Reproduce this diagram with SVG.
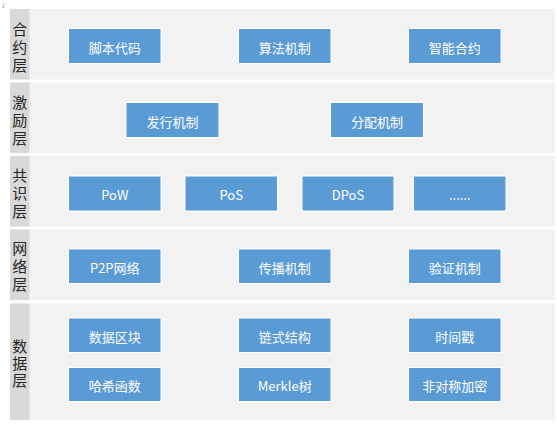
<svg xmlns="http://www.w3.org/2000/svg" width="557" height="428" viewBox="0 0 557 428">
<style>
.band{fill:#f2f2f2}
.lab{fill:#d9d9d9}
.lt{font-family:"Noto Sans CJK SC","Noto Sans",sans-serif;font-size:15px;fill:#262626;text-anchor:middle;writing-mode:vertical-rl;letter-spacing:3px}
.box{fill:#5b9bd5;stroke:#ffffff;stroke-width:1}
.bt{font-family:"Noto Sans CJK SC","Noto Sans",sans-serif;font-size:13px;fill:#ffffff;text-anchor:middle;dominant-baseline:central}
</style>
<rect width="557" height="428" fill="#ffffff"/>
<path d="M2 7.5H3.8V3" fill="none" stroke="#aaaaaa" stroke-width="0.8"/>
<g id="layer-contract">
<rect class="band" x="10" y="9" width="545" height="70.5"/>
<rect class="lab" x="10" y="9" width="19.5" height="70.5"/>
<text class="lt" x="19.7" y="48.5">合约层</text>
</g>
<g id="layer-incentive">
<rect class="band" x="10" y="82.5" width="545" height="70.5"/>
<rect class="lab" x="10" y="82.5" width="19.5" height="70.5"/>
<text class="lt" x="19.7" y="121.5">激励层</text>
</g>
<g id="layer-consensus">
<rect class="band" x="10" y="156" width="545" height="70.5"/>
<rect class="lab" x="10" y="156" width="19.5" height="70.5"/>
<text class="lt" x="19.7" y="194.5">共识层</text>
</g>
<g id="layer-network">
<rect class="band" x="10" y="229.5" width="545" height="70.5"/>
<rect class="lab" x="10" y="229.5" width="19.5" height="70.5"/>
<text class="lt" x="19.7" y="268">网络层</text>
</g>
<g id="layer-data">
<rect class="band" x="10" y="303.5" width="545" height="116.5"/>
<rect class="lab" x="10" y="303.5" width="19.5" height="116.5"/>
<text class="lt" x="19.7" y="364.5" style="letter-spacing:2px">数据层</text>
</g>
<g id="n-script"><rect class="box" x="68.5" y="28.5" width="92.5" height="35"/><text class="bt" x="114.75" y="47">脚本代码</text></g>
<g id="n-algo"><rect class="box" x="238.5" y="28.5" width="92.5" height="35"/><text class="bt" x="284.75" y="47">算法机制</text></g>
<g id="n-smart"><rect class="box" x="408.5" y="28.5" width="92.5" height="35"/><text class="bt" x="454.75" y="47">智能合约</text></g>
<g id="n-issue"><rect class="box" x="126" y="102.5" width="93" height="35"/><text class="bt" x="172.5" y="121">发行机制</text></g>
<g id="n-distribute"><rect class="box" x="330.5" y="102.5" width="93" height="35"/><text class="bt" x="377" y="121">分配机制</text></g>
<g id="n-pow"><rect class="box" x="68.5" y="176" width="92.5" height="35"/><text class="bt" x="114.75" y="194">PoW</text></g>
<g id="n-pos"><rect class="box" x="185" y="176" width="92.5" height="35"/><text class="bt" x="231.25" y="194">PoS</text></g>
<g id="n-dpos"><rect class="box" x="302" y="176" width="92" height="35"/><text class="bt" x="348" y="194">DPoS</text></g>
<g id="n-more"><rect class="box" x="413.5" y="176" width="92.5" height="35"/><text class="bt" x="459.75" y="194">......</text></g>
<g id="n-p2p"><rect class="box" x="68.5" y="249" width="92.5" height="34.5"/><text class="bt" x="114.75" y="267">P2P网络</text></g>
<g id="n-propagate"><rect class="box" x="238.5" y="249" width="92.5" height="34.5"/><text class="bt" x="284.75" y="267">传播机制</text></g>
<g id="n-verify"><rect class="box" x="408.5" y="249" width="92.5" height="34.5"/><text class="bt" x="454.75" y="267">验证机制</text></g>
<g id="n-block"><rect class="box" x="68.5" y="318" width="92.5" height="34.5"/><text class="bt" x="114.75" y="336">数据区块</text></g>
<g id="n-chain"><rect class="box" x="238.5" y="318" width="92.5" height="34.5"/><text class="bt" x="284.75" y="336">链式结构</text></g>
<g id="n-time"><rect class="box" x="408.5" y="318" width="92.5" height="34.5"/><text class="bt" x="454.75" y="336">时间戳</text></g>
<g id="n-hash"><rect class="box" x="68.5" y="367.5" width="92.5" height="34"/><text class="bt" x="114.75" y="385">哈希函数</text></g>
<g id="n-merkle"><rect class="box" x="238.5" y="367.5" width="92.5" height="34"/><text class="bt" x="284.75" y="385">Merkle树</text></g>
<g id="n-asym"><rect class="box" x="408.5" y="367.5" width="92.5" height="34"/><text class="bt" x="454.75" y="385">非对称加密</text></g>
<g id="connectors"></g>
</svg>
